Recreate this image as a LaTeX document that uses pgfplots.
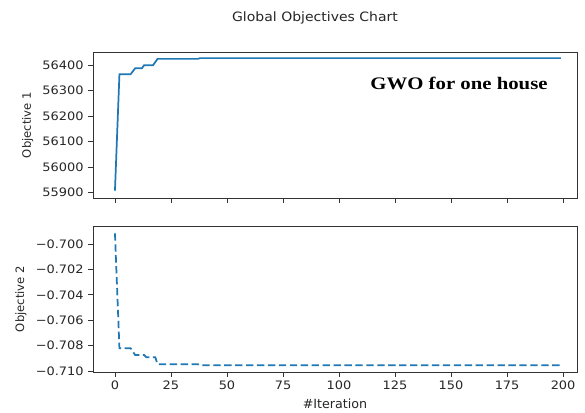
\documentclass[border=0pt]{standalone}
\usepackage{pgfplots}
\pgfplotsset{compat=1.18}
\usepackage{fontspec}
\setmainfont{DejaVu Sans}
\newfontfamily\timesb{Liberation Serif}
\definecolor{c0}{HTML}{1F77B4}
\begin{document}
\begin{tikzpicture}[x=0.75pt,y=0.75pt]
\useasboundingbox (0,0) rectangle (585,412);
\pgfplotsset{
  myax/.style={
    scale only axis, width=363pt, height=109.5pt,
    anchor=south west,
    xmin=-9.8, xmax=206.2,
    xtick={0,25,...,200},
    scaled y ticks=false, scaled x ticks=false,
    tick align=outside, major tick length=3.5pt,
    xtick pos=bottom, ytick pos=left,
    axis line style={black!80, line width=0.6pt},
    tick style={black!80, line width=0.6pt},
    tick label style={font=\fontsize{9.7}{11}\selectfont, yscale=0.9, text=black!85},
    xlabel style={font=\fontsize{9.5}{11}\selectfont, text=black!85},
    ylabel style={font=\fontsize{8.7}{10}\selectfont, text=black!85},
    /pgf/number format/assume math mode=true,
    clip=false,
  }
}
\begin{axis}[myax, at={(69.75pt,160.5pt)},
  ymin=55879, ymax=56452,
  ytick={55900,56000,...,56400},
  yticklabels={55900,56000,56100,56200,56300,56400},
  xticklabels={},
  ylabel={Objective 1},
]
\addplot[c0, line width=1.3pt] coordinates {
(0,55908) (2,56365) (7,56365) (9,56388) (12,56388) (13,56400) (17,56400)
(19,56425) (37,56425) (38,56428) (199,56428)};
\end{axis}
\begin{axis}[myax, at={(69.75pt,30pt)},
  ymin=-0.71008, ymax=-0.69858,
  ytick={-0.710,-0.708,-0.706,-0.704,-0.702,-0.700},
  yticklabels={−0.710,−0.708,−0.706,−0.704,−0.702,−0.700},
  xticklabels={0,25,50,75,100,125,150,175,200},
  ylabel={Objective 2},
  xlabel={\#Iteration},
]
\addplot[c0, line width=1.3pt, dash pattern=on 5.5pt off 2.7pt] coordinates {
(0,-0.69916) (2,-0.70821) (7,-0.70821) (9,-0.70874) (13,-0.70874)
(14,-0.70892) (18,-0.70892) (19,-0.70947) (37,-0.70947) (38,-0.70955) (199,-0.70955)};
\end{axis}
\node[font=\fontsize{10.5}{12}\selectfont, yscale=0.92, text=black!85] at (315,394) {Global Objectives Chart};
\node[font=\timesb\bfseries\fontsize{13.2}{15}\selectfont, xscale=1.18] at (459,329) {GWO for one house};
\end{tikzpicture}
\end{document}
